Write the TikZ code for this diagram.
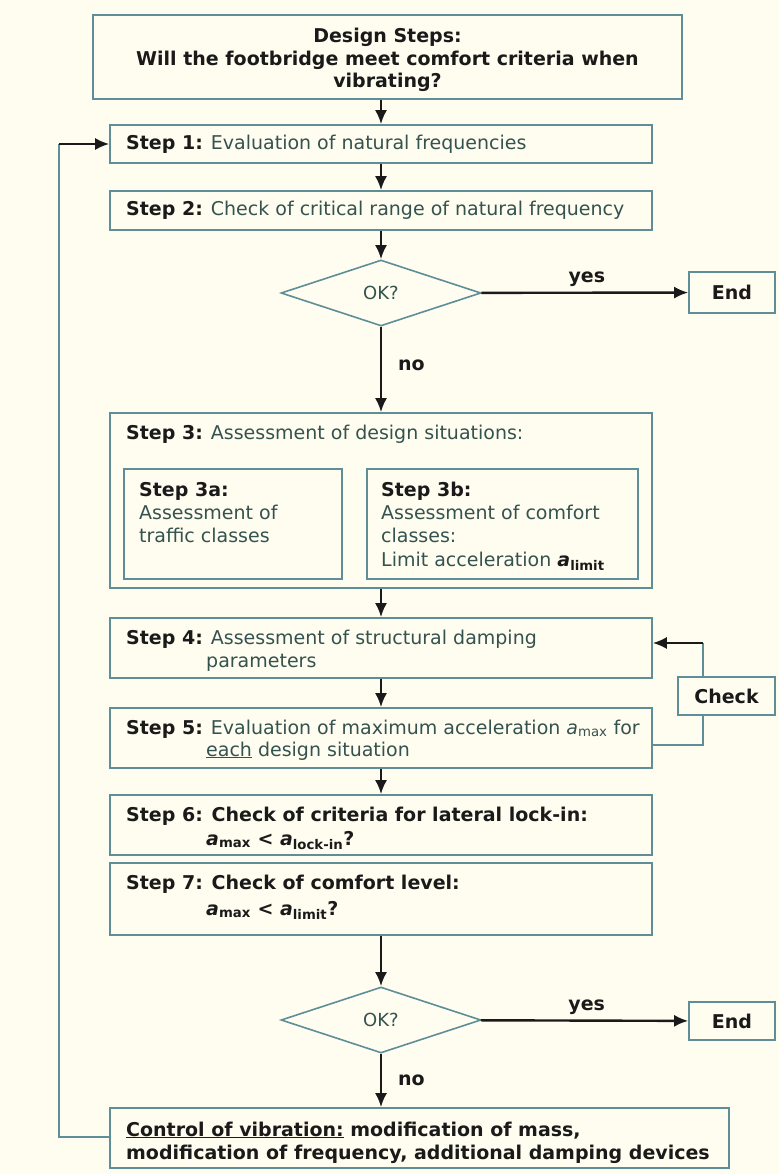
\documentclass[tikz,border=0pt]{standalone}
\usepackage{fontspec}
\setmainfont{DejaVu Sans}
\usetikzlibrary{shapes.geometric,arrows.meta}
\definecolor{bgc}{HTML}{FFFDF0}
\definecolor{edgec}{HTML}{5E8E98}
\definecolor{regc}{HTML}{34524F}
\definecolor{boldc}{HTML}{1A1A1A}
\newcommand\lbl[1]{{\bfseries\color{boldc}#1}}
\newcommand\sbs[1]{\textsubscript{\upshape #1}}
\tikzset{
  x=1pt, y=-1pt,
  box/.style={draw=edgec, line width=1.6pt, fill=bgc, rectangle, inner sep=0pt},
  dia/.style={draw=edgec, line width=1.6pt, fill=bgc, diamond, inner sep=0pt,
    minimum width=200pt, minimum height=66pt, font=\fontsize{18}{20}\selectfont\color{regc}},
  txt/.style={anchor=base west, inner sep=0pt, font=\fontsize{19}{22}\selectfont, text=regc},
  btxt/.style={inner sep=0pt, font=\fontsize{19}{22}\selectfont\bfseries, text=boldc},
  arr/.style={draw=boldc, line width=2.4pt, -{Latex[length=14pt,width=12pt]}},
  loopline/.style={draw=edgec, line width=1.6pt},
}
\begin{document}
\begin{tikzpicture}
\fill[bgc] (0,0) rectangle (779,1174);
\useasboundingbox (0,0) rectangle (779,1174);

% boxes
\node[box, minimum width=589pt, minimum height=84pt] (title) at (387.5,57) {};
\node[box, minimum width=542pt, minimum height=38pt] (s1) at (381,144) {};
\node[box, minimum width=542pt, minimum height=39pt] (s2) at (381,210.5) {};
\node[dia] (d1) at (381,293) {OK?};
\node[box, minimum width=86pt, minimum height=41pt, btxt] (end1) at (732,292.5) {End};
\node[box, minimum width=542pt, minimum height=175pt] (s3) at (381,500.5) {};
\node[box, minimum width=218pt, minimum height=110pt] (s3a) at (233,524) {};
\node[box, minimum width=271pt, minimum height=110pt] (s3b) at (502.5,524) {};
\node[box, minimum width=542pt, minimum height=60pt] (s4) at (381,648) {};
\node[box, minimum width=542pt, minimum height=60pt] (s5) at (381,738) {};
\node[box, minimum width=542pt, minimum height=60pt] (s6) at (381,825) {};
\node[box, minimum width=542pt, minimum height=72pt] (s7) at (381,899) {};
\node[dia] (d2) at (381,1020) {OK?};
\node[box, minimum width=86pt, minimum height=38pt, btxt] (end2) at (732,1021) {End};
\node[box, minimum width=619pt, minimum height=60pt] (ctrl) at (419.5,1138) {};

% texts
\node[btxt, anchor=base] (t1) at (387.5,43) {Design Steps:};
\node[btxt, anchor=base] (t2) at (387.5,66) {Will the footbridge meet comfort criteria when};
\node[btxt, anchor=base] (t3) at (387.5,88) {vibrating?};

\node[txt] (x1) at (126,150) {\lbl{Step 1:} Evaluation of natural frequencies};
\node[txt] (x2) at (126,216) {\lbl{Step 2:} Check of critical range of natural frequency};
\node[txt] (x3) at (126,439) {\lbl{Step 3:} Assessment of design situations:};
\node[txt] (x3a1) at (139,496) {\lbl{Step 3a:}};
\node[txt] (x3a2) at (139,519) {Assessment of};
\node[txt] (x3a3) at (139,542) {traffic classes};
\node[txt] (x3b1) at (381,496) {\lbl{Step 3b:}};
\node[txt] (x3b2) at (381,519) {Assessment of comfort};
\node[txt] (x3b3) at (381,542) {classes:};
\node[txt] (x3b4) at (381,566) {Limit acceleration {\bfseries\itshape\color{boldc}a\sbs{limit}}};
\node[txt] (x41) at (126,644) {\lbl{Step 4:} Assessment of structural damping};
\node[txt] (x42) at (206,667) {parameters};
\node[txt] (x51) at (126,734) {\lbl{Step 5:} Evaluation of maximum acceleration {\itshape a\sbs{max}} for};
\node[txt] (x52) at (206,756) {\underline{each} design situation};
\node[txt] (x61) at (126,821) {\lbl{Step 6: Check of criteria for lateral lock-in:}};
\node[txt] (x62) at (206,845) {\lbl{\itshape a\sbs{max}\upshape\ < \itshape a\sbs{lock-in}\upshape ?}};
\node[txt] (x71) at (126,889) {\lbl{Step 7: Check of comfort level:}};
\node[txt] (x72) at (206,915) {\lbl{\itshape a\sbs{max}\upshape\ < \itshape a\sbs{limit}\upshape ?}};
\node[txt] (xc1) at (126,1136) {\lbl{\underline{Control of vibration:} modification of mass,}};
\node[txt] (xc2) at (126,1159) {\lbl{modification of frequency, additional damping devices}};

% check loop
\coordinate (cb) at (703,745);
\coordinate (ct) at (703,643);
\draw[loopline] (s5.east |- cb) -- (cb) -- (ct);
\draw[arr, line width=2pt] (ct) -- (s4.east |- ct);
\node[box, minimum width=97pt, minimum height=38pt, btxt] (check) at (726.5,696) {Check};

% left loop
\coordinate (lb) at (59,1137);
\coordinate (lt) at (59,144);
\draw[loopline] (ctrl.west |- lb) -- (lb) -- (lt);
\draw[arr, line width=2pt] (lt) -- (s1.west);

% arrows
\draw[arr] (title.south -| s1.north) -- (s1.north);
\draw[arr] (s1) -- (s2);
\draw[arr] (s2) -- (d1);
\draw[arr] (d1) -- node[btxt, right=16pt, pos=0.45] (no1) {no} (s3);
\draw[arr] (d1) -- node[btxt, above=5pt, pos=0.51] (yes1) {yes} (end1);
\draw[arr] (s3) -- (s4);
\draw[arr] (s4) -- (s5);
\draw[arr] (s5) -- (s6);
\draw[arr] (s7) -- (d2);
\draw[arr] (d2) -- node[btxt, right=16pt, pos=0.5] (no2) {no} (d2 |- ctrl.north);
\draw[arr] (d2) -- node[btxt, above=5pt, pos=0.51] (yes2) {yes} (end2);
\end{tikzpicture}
\end{document}
